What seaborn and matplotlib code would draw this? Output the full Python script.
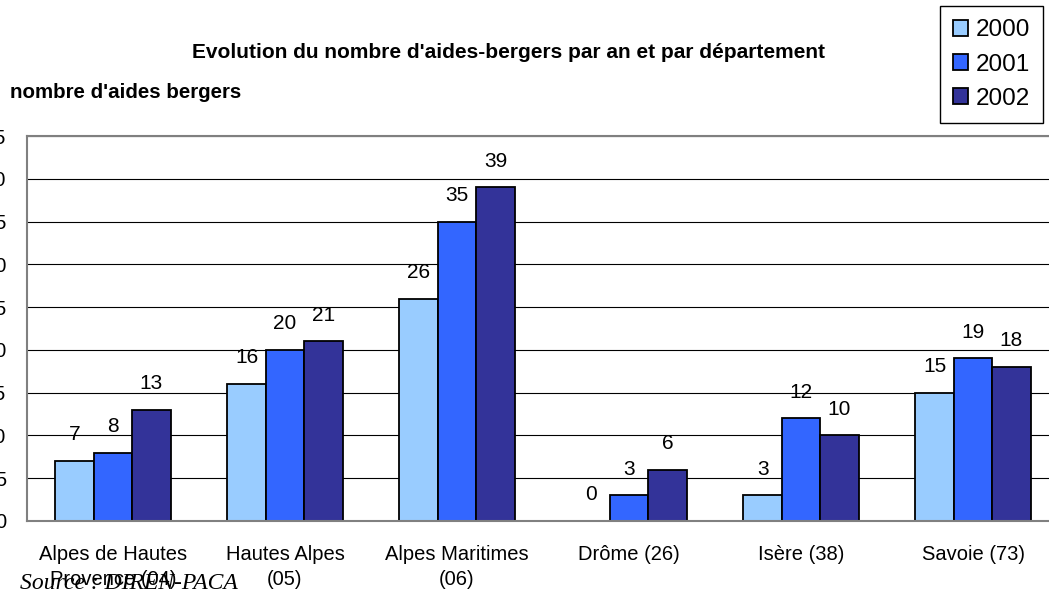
import pandas as pd
import matplotlib
matplotlib.use("Agg")
import matplotlib.pyplot as plt
import seaborn as sns
from matplotlib.patches import Patch

# --- données ---
departements = ["Alpes de Hautes\nProvence (04)", "Hautes Alpes\n(05)", "Alpes Maritimes\n(06)",
                "Drôme (26)", "Isère (38)", "Savoie (73)"]
annees = ["2000", "2001", "2002"]
aides_2000 = [7, 16, 26, 0, 3, 15]
aides_2001 = [8, 20, 35, 3, 12, 19]
aides_2002 = [13, 21, 39, 6, 10, 18]
couleurs = ["#99CCFF", "#3366FF", "#333399"]

df = pd.DataFrame({
    "departement": departements * 3,
    "annee": [a for a in annees for _ in departements],
    "aides": aides_2000 + aides_2001 + aides_2002,
})

sns.set_style("white")
plt.rcParams["font.family"] = ["Liberation Sans", "DejaVu Sans"]
plt.rcParams["text.color"] = "black"
plt.rcParams["xtick.labelcolor"] = "black"
plt.rcParams["ytick.labelcolor"] = "black"

W, H = 1049, 592
fig = plt.figure(figsize=(W / 100, H / 100), dpi=100)
ax = fig.add_axes([27 / W, 71 / H, 1032 / W, 385 / H])

sns.barplot(data=df, x="departement", y="aides", hue="annee", palette=couleurs,
            width=0.67, saturation=1, edgecolor="black", linewidth=1.3,
            errorbar=None, legend=False, ax=ax)

for cont in ax.containers:
    ax.bar_label(cont, fmt="%d", padding=12, fontsize=15, color="black")

ax.set_xlim(-0.5, 5.5)
ax.set_ylim(0, 45)
ax.set_yticks(range(0, 46, 5))
ax.set_xticks([i + 0.5 for i in range(-1, 6)], minor=True)
ax.tick_params(axis="x", which="major", length=0, pad=17, labelsize=14.5)
ax.tick_params(axis="x", which="minor", length=6, width=1, color="#404040", direction="out")
ax.tick_params(axis="y", length=6, width=1, color="#404040", direction="out", pad=9, labelsize=14.5)
for lab in ax.get_xticklabels():
    lab.set_linespacing(1.4)
ax.set_xlabel("")
ax.set_ylabel("")

ax.yaxis.grid(True, color="black", linewidth=0.8)
ax.set_axisbelow(True)
for s in ax.spines.values():
    s.set_visible(True)
    s.set_color("#808080")
    s.set_linewidth(1.5)

fig.text(508 / W, 1 - 52 / H, "Evolution du nombre d'aides-bergers par an et par département",
         ha="center", va="center", fontsize=15, fontweight="bold")
fig.text(10 / W, 1 - 92 / H, "nombre d'aides bergers", ha="left", va="center",
         fontsize=14.8, fontweight="bold")
fig.text(20 / W, 1 - 589 / H, "Source : DIREN-PACA", ha="left", va="baseline",
         fontsize=17, fontstyle="italic", family=["Liberation Serif", "DejaVu Serif"])

handles = [Patch(facecolor=c, edgecolor="black", linewidth=1.3) for c in couleurs]
leg = fig.legend(handles, annees, loc="upper right", bbox_to_anchor=(1043 / W, 1 - 6 / H),
                 fontsize=17.5, handlelength=0.62, handleheight=0.62, handletextpad=0.3,
                 frameon=True, fancybox=False, edgecolor="black", framealpha=1,
                 borderpad=0.55, labelspacing=0.5, borderaxespad=0)
leg.get_frame().set_linewidth(1.0)

fig.savefig("out.png", dpi=100)
